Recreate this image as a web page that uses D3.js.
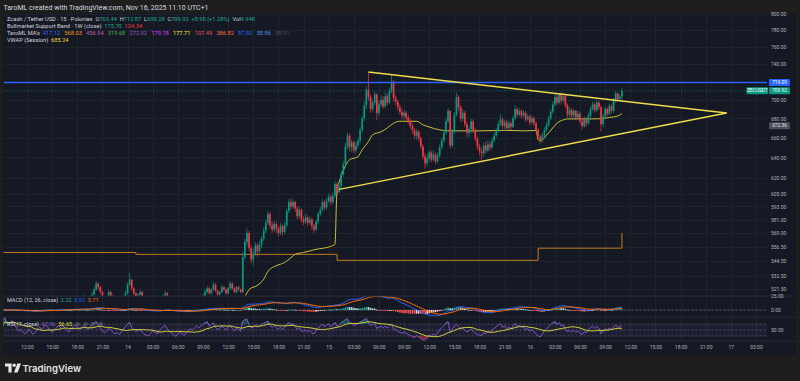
<!DOCTYPE html>
<html><head><meta charset="utf-8">
<script src="https://cdn.jsdelivr.net/npm/d3@7/dist/d3.min.js"></script>
<style>
html,body{margin:0;padding:0;background:#1e1e1e;overflow:hidden}
svg{display:block}
text{white-space:pre}
</style></head>
<body>
<svg id="chart" width="800" height="381"></svg>
<script>
// ---------------- DATA ----------------
const barStart = "2025-11-13T09:00";   // first 15-min bar (UTC+1 wall time)
const firstOpen = 506;
const closes = [
508,510,507,505,509,512,510,506,503,505,
502,499,501,504,500,497,499,502,505,503,
506,509,507,504,501,503,506,510,508,511,
509,506,504,507,511,514,512,509,512,515,
513,511,514,517,521,526,523,519,515,512,
514,519,516,512,509,511,507,510,514,518,
525,529,522,518,515,517,519,514,510,507,
505,508,511,509,506,510,513,516,518,514,
511,508,505,502,504,507,503,500,502,505,
508,506,509,512,510,513,516,519,522,518,
521,525,520,517,519,523,521,518,522,526,
522,519,523,521,519,
548,561,569,556,546,551,558,553,559,564,
571,578,586,576,572,577,573,569,575,570,
576,589,597,593,597,591,584,590,581,579,
583,578,581,575,572,579,586,590,597,592,
598,602,597,603,614,606,612,624,633,
651,662,650,655,647,652,657,668,680,694,
711,703,690,697,706,686,695,700,693,704,
697,710,720,702,698,692,687,683,686,681,
677,672,668,662,666,659,651,641,634,639,
645,638,643,636,642,650,657,665,677,688,
652,666,684,703,692,680,686,674,665,669,
677,668,659,651,646,644,652,
647,653,650,657,662,667,674,679,672,676,
670,675,671,680,690,684,688,683,686,679,
682,676,680,675,668,661,657,662,668,673,
680,687,695,703,697,706,699,704,694,684,
689,683,688,681,685,677,672,679,675,683,
690,695,689,697,692,674,682,690,685,693,
688,699,707,701,703.44,709.92];
const highs = [
510,512,511,508,510,514,513,511,507,506,
506,503,502,505,505,501,500,503,506,507,
507,510,511,508,505,504,507,511,512,512,
513,510,507,508,512,516,515,513,513,517,
516,514,515,519,523,528,527,524,520,516,
515,521,520,517,513,512,512,511,515,520,
527,535,530,523,519,518,521,520,515,511,
508,509,512,512,510,511,514,517,520,519,
515,512,509,506,505,508,508,504,503,506,
509,509,510,513,513,514,517,521,524,523,
522,527,526,521,520,525,524,522,523,528,
527,523,524,524,522,
552,564,573,571,558,555,561,560,562,566,
574,581,589,588,579,580,579,575,578,577,
579,591,600,600,600,598,593,593,591,584,
586,585,584,583,577,581,588,593,600,599,
601,605,604,606,617,616,615,627,636,
655,665,664,658,657,656,660,671,683,698,
715,731,706,700,709,707,699,705,704,708,
707,713,728,722,705,700,695,690,689,688,
684,680,675,670,669,668,661,653,644,643,
648,647,647,645,645,653,660,668,680,691,
689,669,687,708,705,694,690,688,677,672,
680,679,670,661,654,649,655,
656,657,656,660,665,670,677,685,681,679,
678,678,677,683,694,692,691,690,689,688,
685,684,683,682,677,670,663,665,671,676,
683,690,698,706,706,707,708,707,706,696,
692,691,690,689,688,687,679,682,681,686,
693,698,697,700,699,694,685,693,692,696,
695,702,709,708,706,712.87];
const lows = [
505,507,505,503,504,508,508,505,501,502,
500,497,498,500,499,495,496,498,501,502,
502,505,506,503,500,500,502,505,507,507,
508,505,502,503,506,510,511,508,508,511,
512,510,510,513,516,520,521,518,514,511,
511,513,515,511,508,508,506,506,509,513,
517,524,520,516,514,513,516,513,509,506,
503,504,507,508,505,505,509,512,515,513,
510,507,504,501,501,503,502,499,499,501,
504,505,505,508,509,509,512,515,518,517,
517,520,519,516,516,518,520,517,517,521,
521,518,518,520,518,
518,546,558,553,543,541,549,548,551,556,
562,569,576,573,569,570,569,566,567,567,
568,574,587,590,591,588,581,582,578,576,
577,575,576,572,569,571,577,584,588,589,
590,596,594,595,601,603,609,610,621,
630,648,646,645,644,644,649,654,665,677,
690,699,686,687,694,678,683,692,690,691,
694,695,707,698,694,688,684,679,679,678,
674,669,664,659,658,656,648,638,629,631,
636,635,636,633,634,640,648,655,663,675,
649,650,664,682,688,676,677,671,661,660,
664,665,656,648,642,638,641,
644,645,647,648,655,660,665,672,669,669,
667,668,668,670,678,681,682,680,681,676,
677,673,674,672,665,658,654,655,659,666,
671,678,685,693,694,695,695,697,691,681,
681,680,679,678,679,674,668,670,671,673,
681,688,686,687,689,666,671,680,682,683,
685,686,697,698,699,698.28];

// VWAP (session): [bar index, value]
const vwap = [[110,509],[113,512],[116,515.5],[118,521],[122,524.5],[125,529.5],[127,536],[130,540],[133,542],[135,543.5],[138,547.5],[140,550.4],[144,552],[150,554.7],[157,557.3],[159,559],
 [160,609],[161,616],[163,627],[166,637.7],[170,640.7],[172,647.7],[175,656],[177,663],[181,666],[184,670],[187,675],[190,677],[195,677],[198,677],[201,673.3],[204,671],[209,668],[214,667],[220,667],[228,667],[240,667.5],[250,667],[255,667.5],
 [256,658],[257,656.5],[259,660],[261,665],[263,670],[265,675],[268,678.5],[270,679.5],[276,679.5],[282,679.5],[287,680],[290,681],[294,682.5],[296,685.24]];
// Higher-timeframe MA (orange step line): [bar index, value]
const maSteps = [[0,552],[64,550.4],[160,545.3],[256,555.7],[295,555.7],[296,569]];
// Triangle trend lines: [time, price]
const upperTrend = [["2025-11-15T04:45",731],["2025-11-16T23:30",685.8]];
const lowerTrend = [["2025-11-15T01:15",609],["2025-11-16T23:30",685.8]];
const hLevel = 719.09;
const lastPrice = 709.92;
const grayLabel = 672.36;
const priceTicks = [800,780,760,740,720,700,680,660,640,620,605,593,581,569,556.5,544.5,532.5,521.5];
const macdTicks = [25,0];
const rsiTicks = [50];
const rsiLevels = [70,50,30];
const timeFirstTick = "2025-11-13T12:00", timeLastTick = "2025-11-17T03:00";

// ---------------- SETUP ----------------
const FONT = "Roboto, 'Liberation Sans', Arial, sans-serif";
const svg = d3.select("#chart");
const parse = s => new Date(s + ":00Z");
const t0 = parse(barStart);
const barTime = i => new Date(t0.getTime() + i*15*60000);
const plotL = 3.5, plotR = 767, panelR = 796;
const mainTop = 13.5, mainBot = 295.5, macdTop = 296.5, macdBot = 316.5, rsiTop = 317.5, rsiBot = 340.5, panelBot = 355;

const x = d3.scaleUtc().domain([parse(timeFirstTick), parse(timeLastTick)]).range([27, 756]);
const y = d3.scaleLog().domain([521.5, 800]).range([289, 14]);
const yM = d3.scaleLinear().domain([0, 25]).range([310, 296]);
const yR = d3.scaleLinear().domain([30, 70]).range([336, 324]);

const N = closes.length;
const opens = closes.map((c,i)=> i===0 ? firstOpen : closes[i-1]);
const bx = i => x(barTime(i));

// indicators computed from closes
function ema(a,n){const k=2/(n+1);const o=[];a.forEach((v,i)=>o.push(i===0?v:v*k+o[i-1]*(1-k)));return o;}
const e12 = ema(closes,12), e26 = ema(closes,26);
const macd = e12.map((v,i)=>v-e26[i]);
const sig = ema(macd,9);
const hist = macd.map((v,i)=>v-sig[i]);
function rsiCalc(a,n){const o=[50];let ag=0,al=0;for(let i=1;i<a.length;i++){const ch=a[i]-a[i-1];const g=Math.max(ch,0),l=Math.max(-ch,0);if(i===1){ag=g;al=l;}else{ag=(ag*(n-1)+g)/n;al=(al*(n-1)+l)/n;}o.push(al===0?100:100-100/(1+ag/al));}return o;}
const rsi = rsiCalc(closes,7);
const rsiMa = rsi.map((v,i)=>d3.mean(rsi.slice(Math.max(0,i-13),i+1)));

// ---------------- BACKGROUND ----------------
svg.append("rect").attr("width",800).attr("height",381).attr("fill","#1e1e1e");
svg.append("text").attr("x",3.5).attr("y",10).attr("font-size",7).attr("font-family",FONT).attr("fill","#d8dbe2")
  .text("TaroML created with TradingView.com, Nov 16, 2025 11:10 UTC+1");
svg.append("rect").attr("x",3).attr("y",13).attr("width",panelR-3).attr("height",panelBot-13).attr("rx",3).attr("fill","#151924");

const defs = svg.append("defs");
function clip(id,y0,y1){defs.append("clipPath").attr("id",id).append("rect").attr("x",plotL).attr("y",y0).attr("width",plotR-plotL).attr("height",y1-y0);}
clip("cMain",mainTop,mainBot);clip("cMacd",macdTop,macdBot);clip("cRsi",rsiTop,rsiBot);

// grid
const timeTicks = d3.utcHour.every(3).range(parse(timeFirstTick), new Date(parse(timeLastTick).getTime()+1));
const grid = svg.append("g").attr("stroke","#1f2330").attr("stroke-width",1);
timeTicks.forEach(t=>grid.append("line").attr("x1",Math.round(x(t))+0.5).attr("x2",Math.round(x(t))+0.5).attr("y1",mainTop).attr("y2",rsiBot));
priceTicks.forEach(p=>grid.append("line").attr("x1",plotL).attr("x2",plotR).attr("y1",Math.round(y(p))+0.5).attr("y2",Math.round(y(p))+0.5));
macdTicks.forEach(p=>grid.append("line").attr("x1",plotL).attr("x2",plotR).attr("y1",Math.round(yM(p))+0.5).attr("y2",Math.round(yM(p))+0.5));
// pane separators
[mainBot+0.5, macdBot+0.5, rsiBot+0.5].forEach(yy=>svg.append("line").attr("x1",3).attr("x2",panelR).attr("y1",yy).attr("y2",yy).attr("stroke","#262a36"));

// ---------------- MAIN PANE ----------------
const main = svg.append("g").attr("clip-path","url(#cMain)");
main.append("path").datum(maSteps).attr("fill","none").attr("stroke","#c47a1c").attr("stroke-width",1)
  .attr("d", d3.line().x(d=>bx(d[0])).y(d=>y(d[1])).curve(d3.curveStepAfter));
main.append("path").datum(vwap).attr("fill","none").attr("stroke","#cbbf3e").attr("stroke-width",1)
  .attr("d", d3.line().x(d=>bx(d[0])).y(d=>y(d[1])).curve(d3.curveMonotoneX));
const up="#089981", dn="#f23645";
const cg = main.append("g");
for(let i=0;i<N;i++){
  const o=opens[i], c=closes[i], h=Math.max(highs[i],o,c), l=Math.min(lows[i],o,c);
  const col = c>=o?up:dn, xc=bx(i);
  cg.append("line").attr("x1",xc).attr("x2",xc).attr("y1",y(h)).attr("y2",y(l)).attr("stroke",col).attr("stroke-width",0.7);
  const yt=y(Math.max(o,c)), yb=y(Math.min(o,c));
  cg.append("rect").attr("x",xc-0.85).attr("width",1.7).attr("y",yt).attr("height",Math.max(0.7,yb-yt)).attr("fill",col);
}
main.append("line").attr("x1",plotL).attr("x2",plotR).attr("y1",y(lastPrice)).attr("y2",y(lastPrice)).attr("stroke","#089981").attr("stroke-dasharray","1,2").attr("stroke-opacity",0.7);
main.append("line").attr("x1",plotL).attr("x2",plotR).attr("y1",y(hLevel)).attr("y2",y(hLevel)).attr("stroke","#2962ff").attr("stroke-width",1.5);
[upperTrend,lowerTrend].forEach(tl=>main.append("line")
  .attr("x1",x(parse(tl[0][0]))).attr("y1",y(tl[0][1])).attr("x2",x(parse(tl[1][0]))).attr("y2",y(tl[1][1]))
  .attr("stroke","#eedc4a").attr("stroke-width",1.4));

// ---------------- MACD PANE ----------------
const mg = svg.append("g").attr("clip-path","url(#cMacd)");
mg.append("line").attr("x1",plotL).attr("x2",plotR).attr("y1",yM(0)).attr("y2",yM(0)).attr("stroke","#787b86").attr("stroke-dasharray","2,2").attr("stroke-opacity",0.6);
hist.forEach((h,i)=>{
  const prev = i>0?hist[i-1]:0;
  const col = h>=0 ? (h>=prev?"#26a69a":"#b2dfdb") : (h<prev?"#ff5252":"#ffcdd2");
  const y0=yM(0), y1=yM(h);
  mg.append("rect").attr("x",bx(i)-0.8).attr("width",1.6).attr("y",Math.min(y0,y1)).attr("height",Math.max(0.8,Math.abs(y1-y0))).attr("fill",col);
});
const mline = d3.line().x((d,i)=>bx(i)).y(d=>yM(d));
mg.append("path").datum(macd).attr("fill","none").attr("stroke","#2962ff").attr("stroke-width",1).attr("d",mline);
mg.append("path").datum(sig).attr("fill","none").attr("stroke","#ff6d00").attr("stroke-width",1).attr("d",mline);

// ---------------- RSI PANE ----------------
const rg = svg.append("g").attr("clip-path","url(#cRsi)");
rg.append("rect").attr("x",plotL).attr("width",plotR-plotL).attr("y",yR(70)).attr("height",yR(30)-yR(70)).attr("fill","#7e57c2").attr("fill-opacity",0.1);
rsiLevels.forEach(v=>rg.append("line").attr("x1",plotL).attr("x2",plotR).attr("y1",yR(v)).attr("y2",yR(v)).attr("stroke","#787b86").attr("stroke-dasharray","2,2").attr("stroke-opacity",0.5));
rg.append("path").datum(rsi).attr("fill","#089981").attr("fill-opacity",0.45)
  .attr("d",d3.area().x((d,i)=>bx(i)).y0(yR(70)).y1(d=>yR(Math.max(d,70))));
rg.append("path").datum(rsi).attr("fill","#f23645").attr("fill-opacity",0.45)
  .attr("d",d3.area().x((d,i)=>bx(i)).y0(yR(30)).y1(d=>yR(Math.min(d,30))));
const rline = d3.line().x((d,i)=>bx(i)).y(d=>yR(d));
rg.append("path").datum(rsi).attr("fill","none").attr("stroke","#8e5cd0").attr("stroke-width",0.9).attr("d",rline);
rg.append("path").datum(rsiMa).attr("fill","none").attr("stroke","#d2d43a").attr("stroke-width",1).attr("d",rline);

// ---------------- AXES ----------------
function styleAxis(g){g.select(".domain").remove();g.selectAll("line").remove();g.selectAll("text").attr("fill","#b2b5be").attr("font-size",5).attr("font-family",FONT);}
svg.append("g").attr("transform","translate(0,345.5)")
  .call(d3.axisBottom(x).tickValues(timeTicks).tickSize(0).tickPadding(0)
    .tickFormat(d=>d.getUTCHours()===0?d3.utcFormat("%-d")(d):d3.utcFormat("%H:%M")(d)))
  .call(styleAxis);
svg.append("g").attr("transform","translate(771,0)")
  .call(d3.axisRight(y).tickValues(priceTicks).tickSize(0).tickPadding(0).tickFormat(d3.format(".2f"))).call(styleAxis);
svg.append("g").attr("transform","translate(771,0)")
  .call(d3.axisRight(yM).tickValues(macdTicks).tickSize(0).tickPadding(0).tickFormat(d3.format(".2f"))).call(styleAxis);
svg.append("g").attr("transform","translate(771,0)")
  .call(d3.axisRight(yR).tickValues(rsiTicks).tickSize(0).tickPadding(0).tickFormat(d3.format(".2f"))).call(styleAxis);

function tag(x0,w,yy,txt,bg,fg){
  svg.append("rect").attr("x",x0).attr("y",yy-3.5).attr("width",w).attr("height",7).attr("rx",1).attr("fill",bg);
  svg.append("text").attr("x",x0+w/2).attr("y",yy).attr("dy","0.35em").attr("text-anchor","middle").attr("font-size",4.8).attr("font-family",FONT).attr("fill",fg).text(txt);
}
tag(769,21,y(hLevel),d3.format(".2f")(hLevel),"#2962ff","#ffffff");
tag(746.5,21.5,y(lastPrice),"ZECUSDT","#089981","#ffffff");
tag(769,21,y(lastPrice),d3.format(".2f")(lastPrice),"#089981","#ffffff");
tag(769,21,y(grayLabel),d3.format(".2f")(grayLabel),"#4b4f5b","#e0e3eb");

// ---------------- LEGENDS ----------------
const W0="#d1d4dc", G="#22ab94";
function legend(yb,parts,fs){
  const t=svg.append("text").attr("x",7).attr("y",yb).attr("font-size",fs||5.7).attr("font-family",FONT);
  parts.forEach(([s,c])=>t.append("tspan").attr("fill",c).text(s));
}
legend(20.5,[["Zcash / Tether USD · 15 · Poloniex",W0],["  O",W0],["703.44",G],["  H",W0],["712.87",G],["  L",W0],["698.28",G],["  C",W0],["709.92",G],["  +8.95 (+1.28%)",G],["  Vol",W0],["4.94K",G]]);
legend(27.8,[["Bullmarket Support Band · 1W (close)",W0],["  175.70",G],["  124.34","#f23645"]]);
legend(35.1,[["TaroML MA's",W0],["  417.12","#2f6bf5"],["   568.03","#f39c1b"],["   456.94","#c060b8"],["   319.68","#4caf50"],["   272.92","#a44fd0"],["   179.18","#e040fb"],["   177.71","#fff04a"],["   107.49","#f0505e"],["   386.82","#ff6b3d"],["   87.82","#2962ff"],["   58.86","#5b8def"],["   58.91","#50535e"]]);
legend(42.4,[["VWAP (Session)",W0],["  685.24","#f2d83c"]]);
legend(302,[["MACD (12, 26, close)",W0],["  2.22","#26a69a"],["  5.92","#2962ff"],["  3.71","#ff6d00"]],5.5);
legend(325.5,[["RSI (7, close)",W0],["  67.96","#8e5cd0"],["  56.65","#e6e03a"],["  ⊘  ⊘  ⊘  ⊘","#787b86"]],5.5);

// ---------------- FOOTER LOGO ----------------
const lg = svg.append("g").attr("fill","#e6e6e6");
lg.append("path").attr("d","M5,363.5 H11.6 V372.5 H8.4 V366.6 H5 Z");
lg.append("circle").attr("cx",14.2).attr("cy",365.3).attr("r",1.7);
lg.append("path").attr("d","M17.4,363.5 H21 L17.6,372.5 H14 Z");
svg.append("text").attr("x",22.5).attr("y",372).attr("font-size",9.6).attr("font-weight",600).attr("font-family","Inter, Roboto, sans-serif").attr("fill","#e6e6e6").text("TradingView");
</script>
</body></html>
